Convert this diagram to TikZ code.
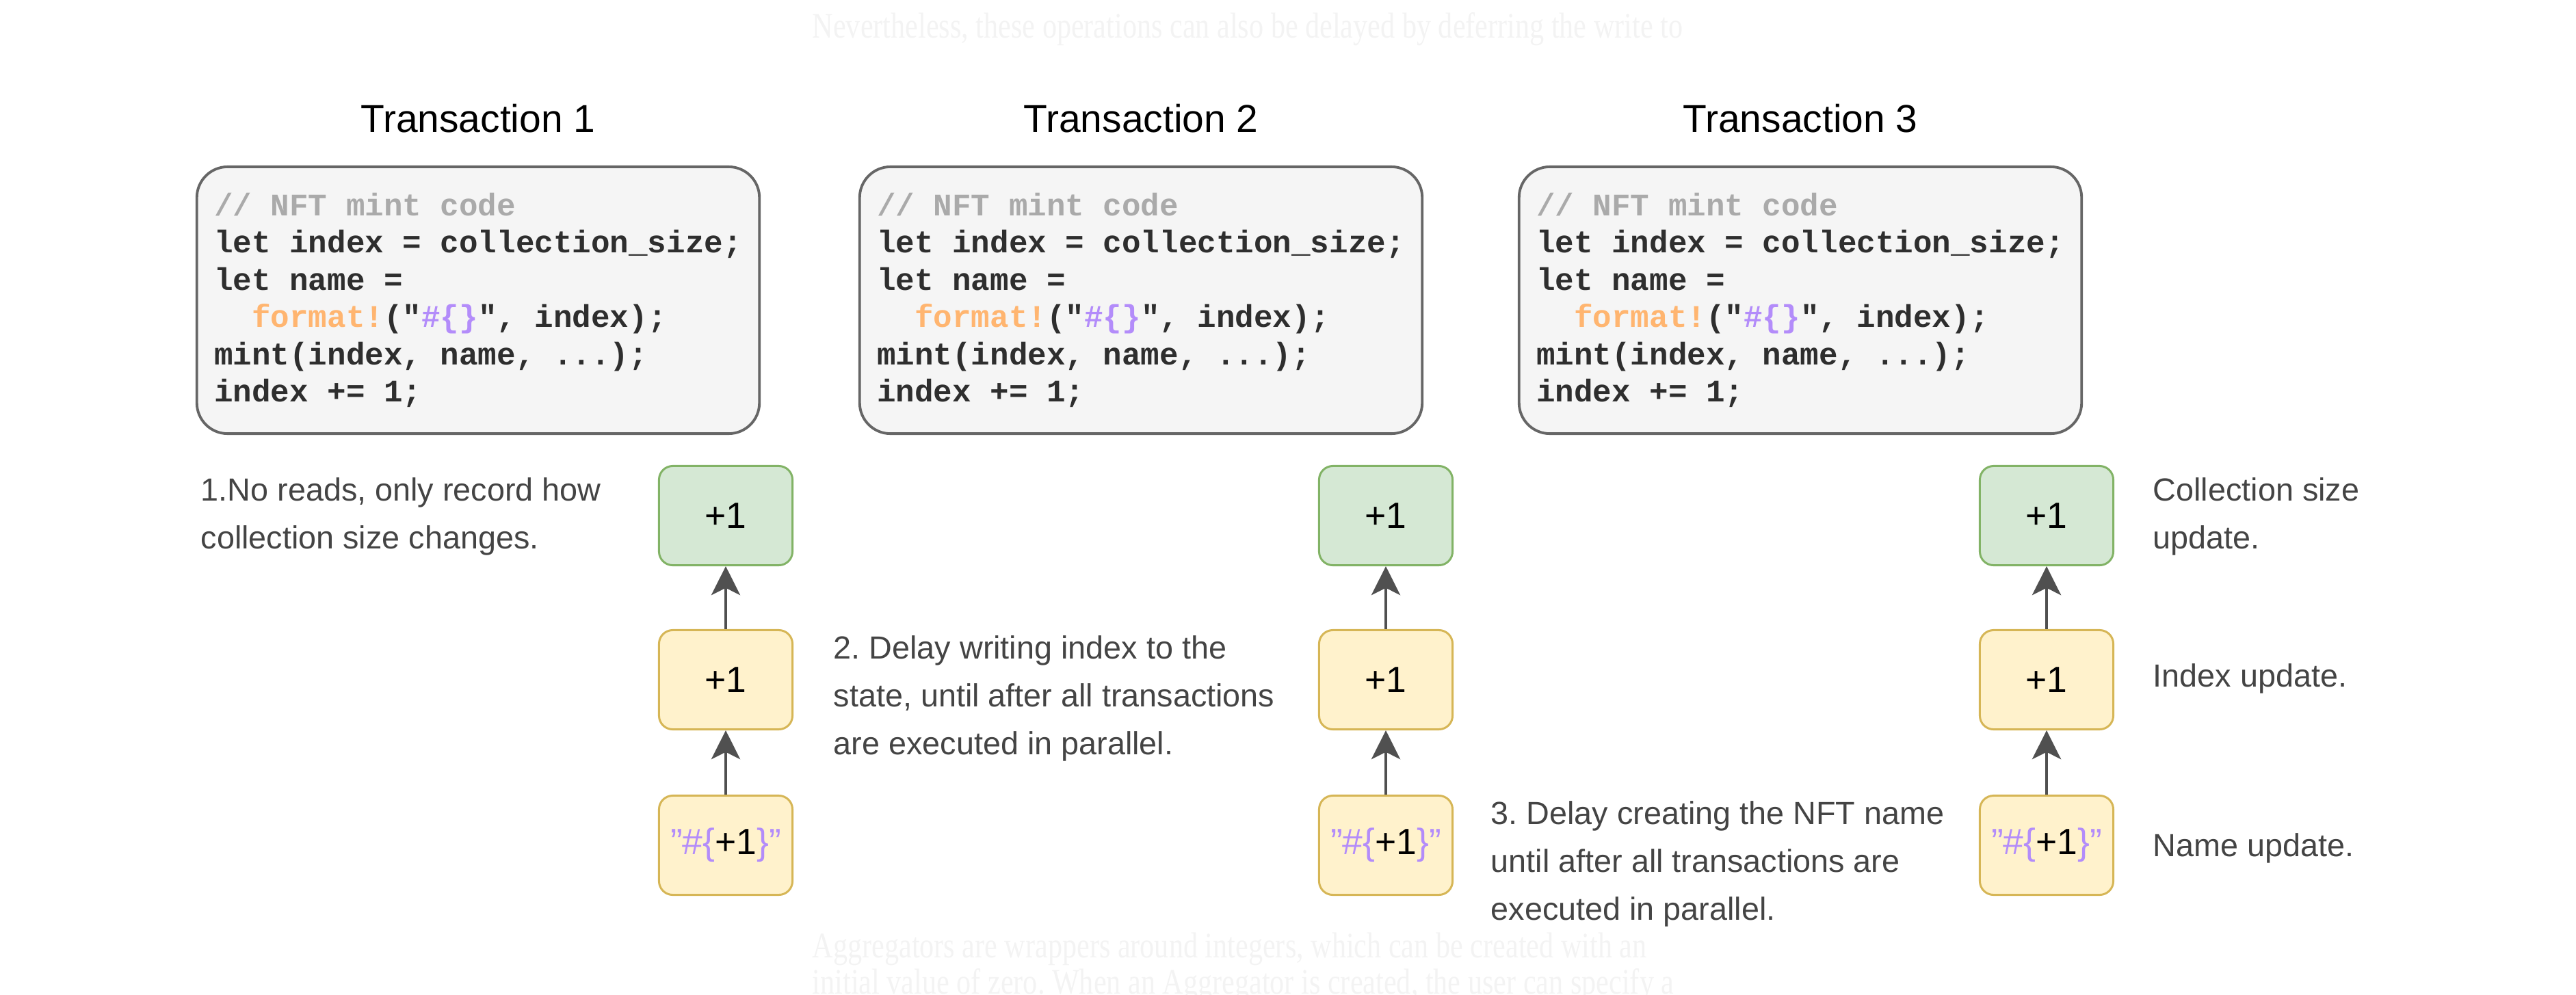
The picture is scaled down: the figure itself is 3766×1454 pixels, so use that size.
\documentclass[tikz,border=0pt]{standalone}
\usepackage{fontspec}
\setmainfont{Liberation Sans}
\setmonofont{Liberation Mono}
\newfontfamily\pagefont[FakeStretch=0.8]{Liberation Serif}
\usetikzlibrary{arrows.meta,positioning}
\frenchspacing
\definecolor{CodeFill}{HTML}{F5F5F5}
\definecolor{CodeLine}{HTML}{666666}
\definecolor{CodeText}{HTML}{2E2E2E}
\definecolor{Comment}{HTML}{AAAAAA}
\definecolor{Macro}{HTML}{FFB570}
\definecolor{Purple}{HTML}{B38CFA}
\definecolor{GreenFill}{HTML}{D5E8D4}
\definecolor{GreenLine}{HTML}{82B366}
\definecolor{YellowFill}{HTML}{FFF2CC}
\definecolor{YellowLine}{HTML}{D6B656}
\definecolor{Note}{HTML}{444444}
\definecolor{Arrow}{HTML}{505050}
\definecolor{Page}{HTML}{F3F3F3}
\newcommand{\mintcode}{{\color{Comment}// NFT mint code}\\
  let index = collection\_size;\\
  let name =\\
  \phantom{ff}{\color{Macro}format!}("{\color{Purple}\#\{\}}", index);\\
  mint(index, name, ...);\\
  index += 1;}
\newcommand{\namestr}{{\color{Purple}"\#\{}+1{\color{Purple}\}"}}

\begin{document}
\begin{tikzpicture}[x=0.01cm,y=-0.01cm,
  codebox/.style={draw=CodeLine,fill=CodeFill,line width=1.1pt,rounded corners=0.45cm,
    align=left,inner xsep=0.24cm,minimum width=8.22cm,minimum height=3.9cm,
    text=CodeText,font=\ttfamily\bfseries\fontsize{13.06}{15.5}\selectfont},
  title/.style={font=\fontsize{16.2}{19}\selectfont},
  sizebox/.style={draw=GreenLine,fill=GreenFill,line width=0.85pt,rounded corners=0.2cm,
    minimum width=1.95cm,minimum height=1.45cm,font=\fontsize{15.2}{18}\selectfont},
  deltabox/.style={sizebox,draw=YellowLine,fill=YellowFill},
  note/.style={anchor=west,align=left,inner sep=0pt,text=Note,font=\fontsize{13.3}{19.9}\selectfont},
  pagetext/.style={anchor=west,inner sep=0pt,text=Page,font=\pagefont\fontsize{15}{18}\selectfont},
  link/.style={-{Stealth[length=12pt,width=12pt,inset=3pt]},line width=1.1pt,draw=Arrow}
]
\useasboundingbox (0,0) rectangle (3766,1454);
% page text behind the figure
\node[pagetext] (above) at (1187,43) {Nevertheless, these operations can also be delayed by deferring the write to};
\node[pagetext] (below) at (1187,1388) {Aggregators are wrappers around integers, which can be created with an};
\node[pagetext] (below2) at (1187,1441) {initial value of zero. When an Aggregator is created, the user can specify a};

% transactions
\node[title] (title1) at (699,173) {Transaction 1};
\node[title] (title2) at (1668,173) {Transaction 2};
\node[title] (title3) at (2632,173) {Transaction 3};
\node[codebox] (code1) at (699,439) {\mintcode};
\node[codebox] (code2) at (1668,439) {\mintcode};
\node[codebox] (code3) at (2632,439) {\mintcode};

% deltas
\node[sizebox] (size1) at (1061,754) {+1};
\node[deltabox] (index1) at (1061,994) {+1};
\node[deltabox] (name1) at (1061,1236) {\namestr};
\node[sizebox] (size2) at (2026,754) {+1};
\node[deltabox] (index2) at (2026,994) {+1};
\node[deltabox] (name2) at (2026,1236) {\namestr};
\node[sizebox] (size3) at (2992,754) {+1};
\node[deltabox] (index3) at (2992,994) {+1};
\node[deltabox] (name3) at (2992,1236) {\namestr};
\draw[link] (index1.north) -- (size1.south);
\draw[link] (name1.north) -- (index1.south);
\draw[link] (index2.north) -- (size2.south);
\draw[link] (name2.north) -- (index2.south);
\draw[link] (index3.north) -- (size3.south);
\draw[link] (name3.north) -- (index3.south);

% notes
\node[note] (reads) at (293,755) {1.No reads, only record how\\collection size changes.};
\node[note] (delayindex) at (1218,1021) {2. Delay writing index to the\\state, until after all transactions\\are executed in parallel.};
\node[note] (delayname) at (2179,1263) {3. Delay creating the NFT name\\until after all transactions are\\executed in parallel.};
\node[note] (sizeupd) at (3147,755) {Collection size\\update.};
\node[note] (indexupd) at (3147,992) {Index update.};
\node[note] (nameupd) at (3147,1240) {Name update.};
\end{tikzpicture}
\end{document}
